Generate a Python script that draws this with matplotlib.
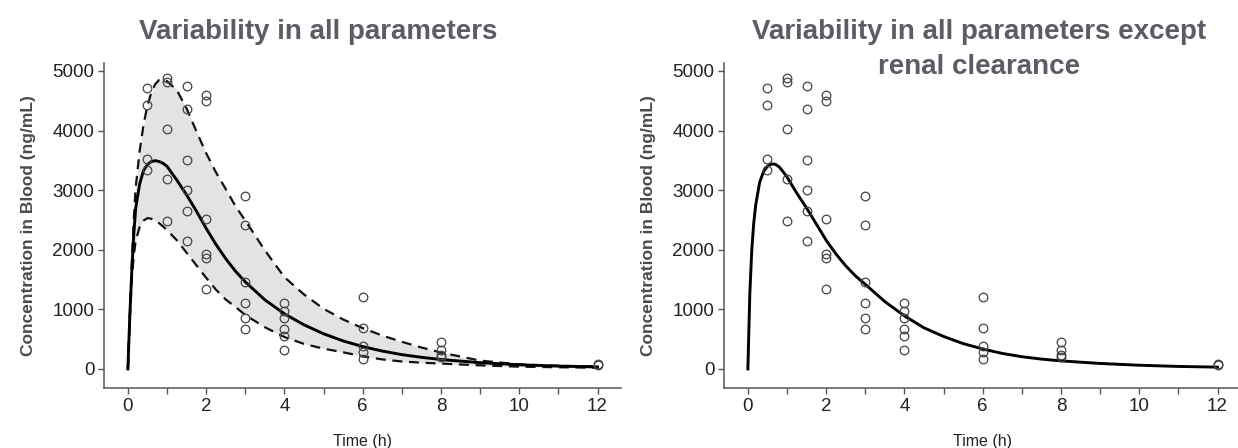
import matplotlib
matplotlib.use("Agg")
import matplotlib.pyplot as plt

plt.rcParams['font.family'] = ['Liberation Sans', 'DejaVu Sans']

# observed concentrations (same subjects in both panels)
obs_time = [0.5, 0.5, 0.5, 0.5,
            1, 1, 1, 1, 1,
            1.5, 1.5, 1.5, 1.5, 1.5, 1.5,
            2, 2, 2, 2, 2, 2,
            3, 3, 3, 3, 3, 3,
            4, 4, 4, 4, 4, 4,
            6, 6, 6, 6, 6,
            8, 8, 8, 8,
            12, 12]
obs_conc = [4720, 4430, 3520, 3330,
            4890, 4820, 4030, 3180, 2490,
            4740, 4370, 3510, 3000, 2650, 2140,
            4590, 4490, 2520, 1930, 1860, 1340,
            2900, 2420, 1460, 1100, 850, 670,
            1100, 980, 850, 670, 550, 320,
            1200, 680, 390, 290, 165,
            460, 325, 235, 200,
            80, 65]

# simulated profiles, all parameters variable
sim_time = [0, 0.05, 0.1, 0.15, 0.2, 0.3, 0.4, 0.5, 0.6, 0.7, 0.8, 0.9, 1.0,
            1.25, 1.5, 1.75, 2.0, 2.25, 2.5, 2.75, 3.0, 3.5, 4.0, 4.5, 5.0,
            5.5, 6.0, 6.5, 7.0, 7.5, 8.0, 9.0, 10.0, 11.0, 12.0]
all_median = [0, 900, 1650, 2250, 2700, 3100, 3330, 3430, 3480, 3495, 3480, 3450, 3400,
              3170, 2920, 2650, 2360, 2090, 1850, 1640, 1460, 1160, 925, 740, 590,
              470, 375, 300, 240, 195, 158, 105, 70, 48, 33]
all_upper = [0, 900, 1750, 2500, 3050, 3650, 4100, 4420, 4640, 4780, 4850, 4860, 4830,
             4680, 4370, 3990, 3620, 3300, 3020, 2730, 2490, 1990, 1540, 1250, 1010,
             830, 685, 560, 455, 360, 275, 140, 75, 52, 42]
all_lower = [0, 850, 1500, 1900, 2150, 2380, 2490, 2530, 2520, 2490, 2445, 2390, 2330,
             2160, 1950, 1740, 1530, 1330, 1165, 1040, 905, 700, 535, 420, 340,
             280, 210, 160, 125, 105, 90, 60, 38, 28, 20]

# renal clearance fixed
renal_median = [0, 1270, 2000, 2450, 2750, 3130, 3310, 3400, 3440, 3435, 3390, 3310, 3220,
                2950, 2700, 2430, 2160, 1930, 1730, 1560, 1420, 1130, 890, 690, 545,
                425, 335, 260, 205, 165, 135, 92, 62, 42, 30]

title_lines = [["Variability in all parameters"],
               ["Variability in all parameters except", "renal clearance"]]
title_x = [318, 979]

W, H = 1238, 448
fig = plt.figure(figsize=(W / 100, H / 100), dpi=100)
title_col = '#5b5c64'
lab_col = '#4a4a4a'

for i, left_px in enumerate([104, 724]):
    ax = fig.add_axes([left_px / W, (H - 388) / H, 517 / W, 325 / H])
    if i == 0:
        ax.fill_between(sim_time, all_lower, all_upper, color='#e3e3e3', lw=0)
        ax.plot(sim_time, all_upper, color='#111111', lw=1.6, ls=(0, (4.5, 3)))
        ax.plot(sim_time, all_lower, color='#111111', lw=1.6, ls=(0, (4.5, 3)))
        ax.plot(sim_time, all_median, color='#000000', lw=2.1)
    else:
        ax.plot(sim_time, renal_median, color='#000000', lw=2.1)
    ax.plot(obs_time, obs_conc, 'o', ms=6.2, mfc='none', mec='#444444', mew=0.9)

    ax.set_xlim(-0.61, 12.6)
    ax.set_ylim(-320, 5134)
    ax.set_xticks(range(0, 13))
    ax.set_xticklabels([str(v) if v % 2 == 0 else '' for v in range(0, 13)])
    ax.set_yticks([0, 1000, 2000, 3000, 4000, 5000])
    for side in ['top', 'right']:
        ax.spines[side].set_visible(False)
    for side in ['left', 'bottom']:
        ax.spines[side].set_color('#555555')
        ax.spines[side].set_linewidth(1.1)
    ax.tick_params(length=4, width=1, color='#555555', labelsize=13.5,
                   labelcolor='#222222', pad=3)
    ax.set_xlabel('Time (h)', fontsize=11.5, color='#222222', labelpad=14)
    ax.set_ylabel('Concentration in Blood (ng/mL)', fontsize=12.5, fontweight='bold',
                  color=lab_col, labelpad=12)

    for k, line in enumerate(title_lines[i]):
        fig.text(title_x[i] / W, 1 - (39 + 35 * k) / H, line, ha='center',
                 va='baseline', fontsize=20, fontweight='bold', color=title_col)

fig.savefig('out.png', dpi=100)
